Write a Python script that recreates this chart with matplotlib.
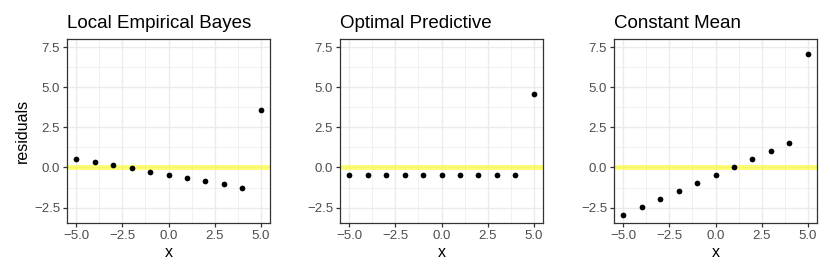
import matplotlib
matplotlib.use("Agg")
import matplotlib.pyplot as plt
import numpy as np

x = [-5, -4, -3, -2, -1, 0, 1, 2, 3, 4, 5]
panel_titles = ["Local Empirical Bayes", "Optimal Predictive", "Constant Mean"]
resid_leb = [0.55, 0.34, 0.13, -0.06, -0.26, -0.45, -0.65, -0.85, -1.05, -1.25, 3.55]
resid_opt = [-0.45, -0.45, -0.45, -0.45, -0.45, -0.45, -0.45, -0.45, -0.45, -0.45, 4.55]
resid_const = [-2.95, -2.45, -1.95, -1.45, -0.95, -0.45, 0.05, 0.55, 1.05, 1.55, 7.05]
x_ticks = [-5.0, -2.5, 0.0, 2.5, 5.0]
y_ticks = [-2.5, 0.0, 2.5, 5.0, 7.5]

plt.rcParams["font.family"] = ["Liberation Sans", "DejaVu Sans"]

fig = plt.figure(figsize=(8.3, 2.77), dpi=100)
W, H = 830, 277
lefts = [67, 340, 614]
width = 203
top, bottom = 39, 223

series = [resid_leb, resid_opt, resid_const]
for i, (title, resid) in enumerate(zip(panel_titles, series)):
    ax = fig.add_axes([lefts[i] / W, 1 - bottom / H, width / W, (bottom - top) / H])
    ax.set_xlim(-5.5, 5.5)
    ax.set_ylim(-3.46, 8.0)
    ax.set_xticks(x_ticks)
    ax.set_yticks(y_ticks)
    ax.set_xticks([-3.75, -1.25, 1.25, 3.75], minor=True)
    ax.set_yticks([-1.25, 1.25, 3.75, 6.25], minor=True)
    ax.grid(True, which="major", color="#ebebeb", linewidth=1.0, zorder=0)
    ax.grid(True, which="minor", color="#ebebeb", linewidth=0.5, zorder=0)
    ax.set_axisbelow(True)
    ax.axhline(0, color="#ffff00", alpha=0.55, linewidth=3.5, zorder=1)
    ax.scatter(x, resid, s=17, color="black", zorder=3, linewidths=0)
    for sp in ax.spines.values():
        sp.set_color("#333333")
        sp.set_linewidth(0.9)
    ax.tick_params(which="major", length=3, width=0.9, color="#333333",
                   labelsize=9.5, labelcolor="#4d4d4d", pad=2)
    ax.tick_params(which="minor", length=0)
    ax.set_xticklabels([f"{t:.1f}".replace("-", "\u2212") for t in x_ticks])
    ax.set_yticklabels([f"{t:.1f}".replace("-", "\u2212") for t in y_ticks])
    ax.set_xlabel("x", fontsize=11.5, labelpad=2.5)
    ax.set_title(title, fontsize=13.5, loc="left", pad=8)
    if i == 0:
        ax.set_ylabel("residuals", fontsize=11.5, labelpad=3)

fig.savefig("out.png", dpi=100)
